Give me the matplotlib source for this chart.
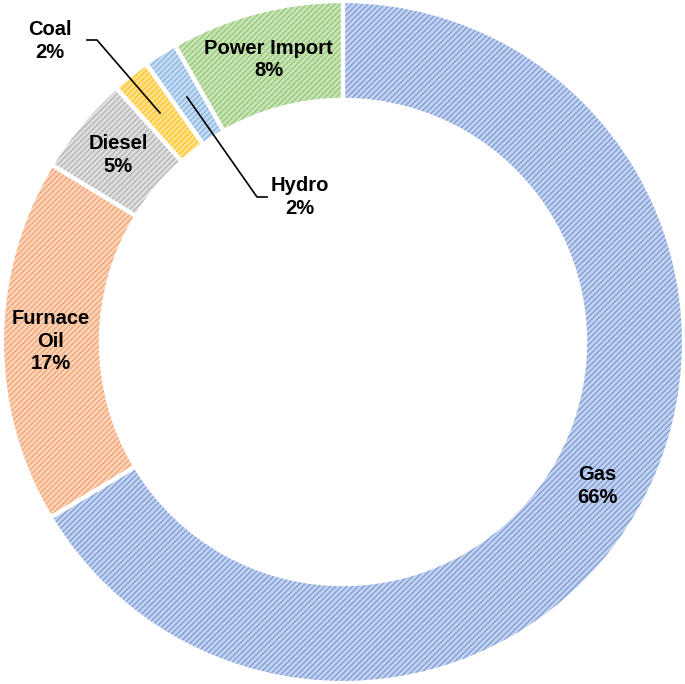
import numpy as np
import matplotlib.pyplot as plt

plt.rcParams['font.family'] = ['Liberation Sans', 'DejaVu Sans']
plt.rcParams['hatch.linewidth'] = 0.9

labels = ['Gas', 'Furnace\nOil', 'Diesel', 'Coal', 'Hydro', 'Power Import']
values = [66.4, 17.3, 4.7, 1.8, 1.6, 8.2]
pct_text = ['66%', '17%', '5%', '2%', '2%', '8%']
face_colors = ['#c3d2ef', '#fad3b8', '#dedede', '#ffe08a', '#c4dbf1', '#c9e3b8']
hatch_colors = ['#7c9bd6', '#f2a472', '#b3b3b3', '#ffc62a', '#86b5e3', '#94c873']

W, H = 685, 684
cx, cy, R = 343, 342, 341


def px(x, y):
    # pixel position -> data coords (pie radius 1)
    return (x - cx) / R, (cy - y) / R


fig = plt.figure(figsize=(W / 100, H / 100), dpi=100)
ax = fig.add_axes([0, 0, 1, 1])

wedges, _ = ax.pie(values, startangle=90, counterclock=False, radius=1,
                   colors=face_colors,
                   wedgeprops=dict(width=0.29, linewidth=0))
for w, hc in zip(wedges, hatch_colors):
    w.set_edgecolor(hc)
    w.set_hatch('//////')
    w.set_linewidth(0)

# white separators
ax.pie(values, startangle=90, counterclock=False, radius=1,
       colors=['none'] * len(values),
       wedgeprops=dict(width=0.29, linewidth=3, edgecolor='white'))

tkw = dict(ha='center', va='center', fontsize=14.5, fontweight='bold',
           color='black', linespacing=1.25)
for w, lab, p in zip(wedges, labels, pct_text):
    if lab in ('Coal', 'Hydro'):
        continue
    ang = np.deg2rad((w.theta1 + w.theta2) / 2)
    r = 0.857
    ax.text(r * np.cos(ang), r * np.sin(ang), lab + '\n' + p, **tkw)

# outside labels with leader lines
x, y = px(50, 41)
ax.text(x, y, 'Coal\n2%', **tkw)
pts = [px(87, 40), px(97, 40), px(160, 113)]
ax.plot([p[0] for p in pts], [p[1] for p in pts], color='black', lw=1.2)

x, y = px(300, 197)
ax.text(x, y, 'Hydro\n2%', **tkw)
pts = [px(187, 97), px(257, 197), px(267, 197)]
ax.plot([p[0] for p in pts], [p[1] for p in pts], color='black', lw=1.2)

ax.set_xlim(-cx / R, (W - cx) / R)
ax.set_ylim(-(H - cy) / R, cy / R)
ax.set_aspect('auto')
ax.axis('off')

fig.savefig('out.png', dpi=100)
